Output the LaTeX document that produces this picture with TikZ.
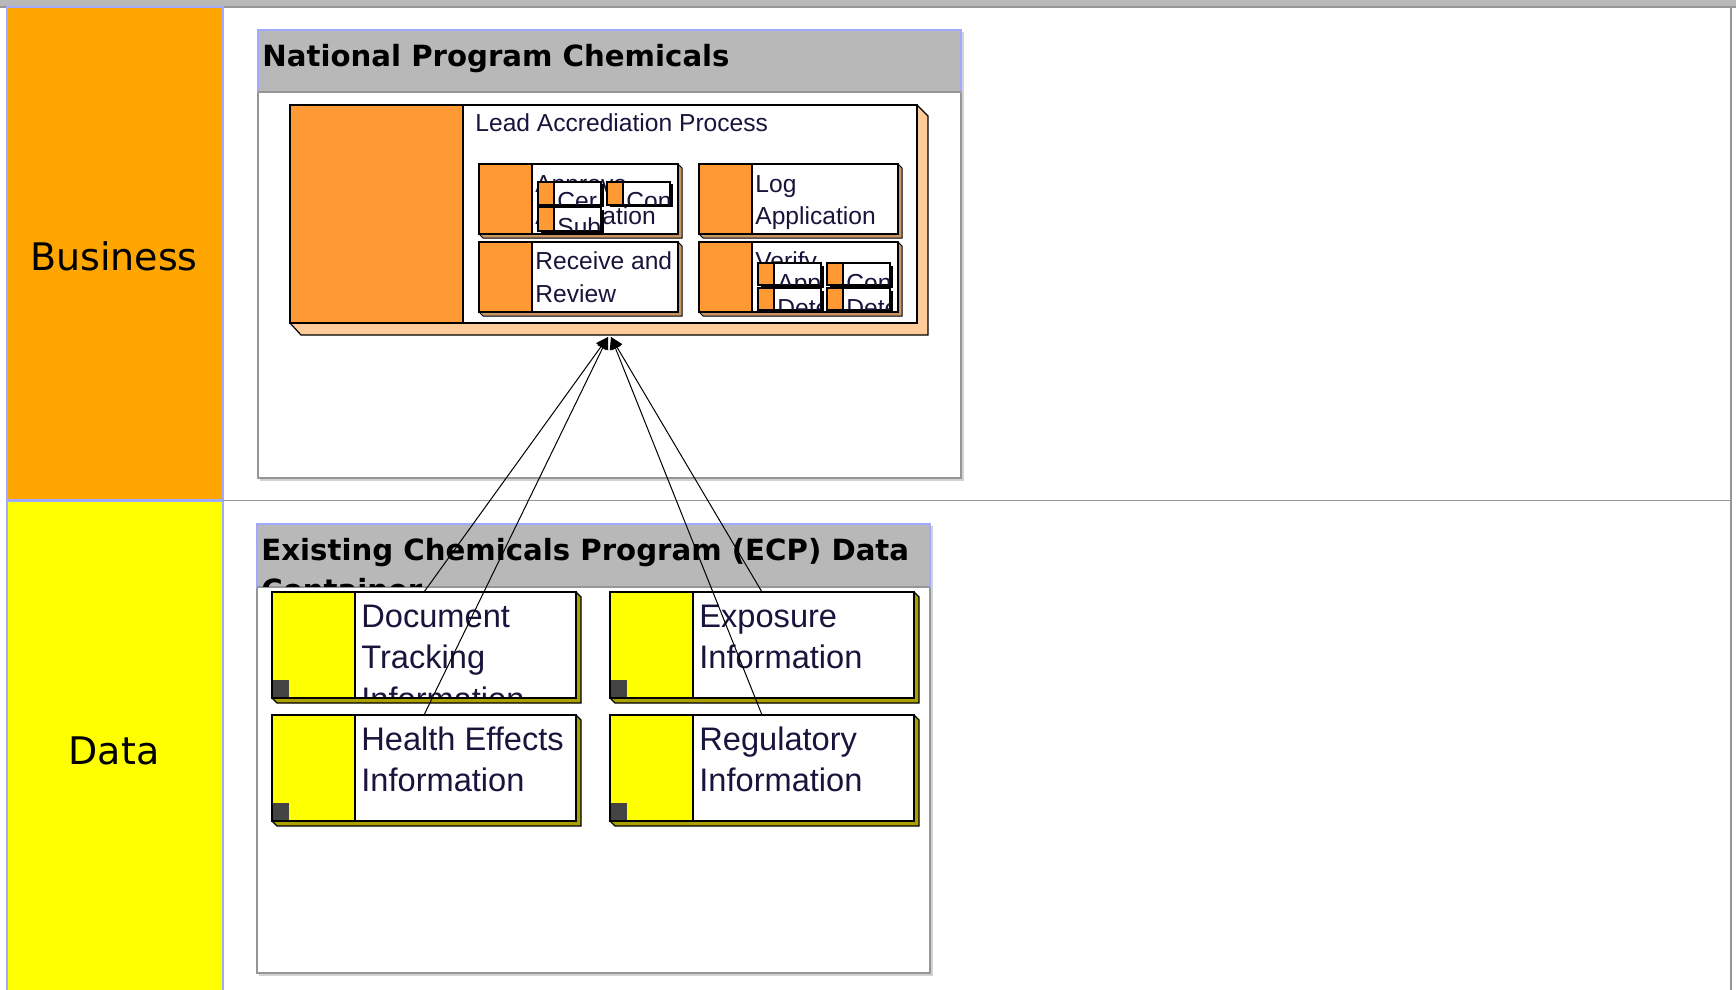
\documentclass[tikz,border=0pt]{standalone}
\usepackage{fontspec}
\setmainfont{Liberation Sans}
\newfontfamily\dejavu{DejaVu Sans}
\usetikzlibrary{arrows.meta}
\definecolor{topgray}{RGB}{184,184,184}
\definecolor{bizorange}{RGB}{255,165,0}
\definecolor{datayellow}{RGB}{255,255,0}
\definecolor{cellblue}{RGB}{160,170,255}
\definecolor{procorange}{RGB}{255,153,51}
\definecolor{peach}{RGB}{255,204,153}
\definecolor{tanshadow}{RGB}{200,150,100}
\definecolor{dataolive}{RGB}{170,160,0}
\definecolor{darksq}{RGB}{68,68,68}
\definecolor{framegray}{RGB}{150,150,150}
\definecolor{lightframe}{RGB}{210,210,210}
\definecolor{inktext}{RGB}{25,20,60}
\tikzset{
  boxnode/.style={draw=black, fill=white, line width=0.8pt, anchor=north west, inner sep=0pt, outer sep=0pt},
  contnode/.style={draw=framegray, fill=white, line width=0.6pt, anchor=north west, inner sep=0pt, outer sep=0pt},
  proctext/.style={font=\fontsize{12.3pt}{14pt}\selectfont, text=inktext, inner sep=0pt},
  datatext/.style={font=\fontsize{16.3pt}{18pt}\selectfont, text=inktext, inner sep=0pt},
  titletext/.style={font=\dejavu\bfseries\fontsize{14.6pt}{17pt}\selectfont, text=black, inner sep=0pt},
  lanetext/.style={font=\dejavu\fontsize{19pt}{21pt}\selectfont, text=black, inner sep=0pt},
  conn/.style={draw=black, line width=0.5pt, -{Triangle[length=6pt,width=6pt]}}
}
% inner process box: name, (x,y), line1, line2
\newcommand\mkproc[4]{%
\begin{scope}[shift={#2}]
 \filldraw[fill=tanshadow, draw=black, line width=0.5pt] (0,70) -- (4,74) -- (203,74) -- (203,4) -- (199,0) -- cycle;
 \node[boxnode, minimum width=99.5pt, minimum height=35pt] (#1) at (0,0) {};
 \filldraw[fill=procorange, draw=black, line width=0.8pt] (0,0) rectangle (53,70);
 \begin{scope}
  \clip (54,1) rectangle (198,69);
  \node[proctext, anchor=base west] (#1-a) at (56,28) {#3};
  \node[proctext, anchor=base west] (#1-b) at (56,60) {#4};
 \end{scope}
 \draw[line width=0.8pt] (0,0) rectangle (199,70);
\end{scope}}
% mini box: name, (x,y), height, text
\newcommand\mkmini[4]{%
\begin{scope}[shift={#2}]
 \fill[black] (2.5,2.5) rectangle (65.5,#3+2.5);
 \node[boxnode, line width=0.6pt, minimum width=31.5pt, minimum height=#3*0.5pt] (#1) at (0,0) {};
 \filldraw[fill=procorange, draw=black, line width=0.6pt] (0,0) rectangle (16,#3);
 \begin{scope}
  \clip (17,0.5) rectangle (62.5,#3-0.5);
  \node[proctext, anchor=base west] (#1-t) at (19,28) {#4};
 \end{scope}
\end{scope}}
% data box: name, (x,y), lines
\newcommand\mkdata[3]{%
\begin{scope}[shift={#2}]
 \filldraw[fill=dataolive, draw=black, line width=0.6pt] (0,106) -- (5,111) -- (309,111) -- (309,5) -- (304,0) -- cycle;
 \node[boxnode, minimum width=152pt, minimum height=53pt] (#1) at (0,0) {};
 \filldraw[fill=datayellow, draw=black, line width=0.8pt] (0,0) rectangle (83,106);
 \fill[darksq] (0,88) rectangle (17,106);
 \begin{scope}
  \clip (84,1) rectangle (303,105);
  \foreach \t [count=\i] in {#3} \node[datatext, anchor=base west] (#1-\i) at (89,{35+41.5*(\i-1)}) {\t};
 \end{scope}
 \draw[line width=0.8pt] (0,0) rectangle (304,106);
\end{scope}}
\begin{document}
\begin{tikzpicture}[x=0.5pt, y=-0.5pt, line join=miter]
\useasboundingbox (0,0) rectangle (1736,990);
\fill[white] (0,0) rectangle (1736,990);
% top bar
\fill[topgray] (0,0) rectangle (1736,7);
\draw[framegray, line width=0.6pt] (0,7) -- (1736,7);
% lanes
\node[draw=cellblue, fill=bizorange, line width=0.8pt, anchor=north west, inner sep=0pt, outer sep=0pt, minimum width=108pt, minimum height=246.5pt] (bizcell) at (7,7) {};
\node[draw=cellblue, fill=datayellow, line width=0.8pt, anchor=north west, inner sep=0pt, outer sep=0pt, minimum width=108pt, minimum height=245pt] (datacell) at (7,501) {};
\node[lanetext] (bizlabel) at (114,256) {Business};
\node[lanetext] (datalabel) at (114,751) {Data};
\draw[framegray, line width=0.6pt] (223,500.5) -- (1731,500.5);
\draw[framegray, line width=0.8pt] (1731,7) -- (1731,990);
% National Program Chemicals container
\draw[lightframe, line width=0.8pt] (260,480) -- (963,480) -- (963,32);
\node[contnode, minimum width=351.5pt, minimum height=224pt] (npc) at (258,30) {};
\filldraw[fill=topgray, draw=cellblue, line width=0.8pt] (258,30) rectangle (961,92);
\draw[framegray, line width=0.6pt] (258,92) -- (961,92);
\node[titletext, anchor=base west] (npctitle) at (262,67) {National Program Chemicals};
% Lead Accrediation Process
\begin{scope}[shift={(290,105)}]
 \filldraw[fill=peach, draw=black, line width=0.6pt] (0,218) -- (11,230) -- (638,230) -- (638,11) -- (627,0) -- cycle;
 \node[boxnode, minimum width=313.5pt, minimum height=109pt] (lap) at (0,0) {};
 \filldraw[fill=procorange, draw=black, line width=0.8pt] (0,0) rectangle (173,218);
 \node[proctext, anchor=base west] (laptitle) at (185,27) {Lead Accrediation Process};
\end{scope}
\mkproc{approve}{(479,164)}{Approve}{Application}
\mkproc{logapp}{(699,164)}{Log}{Application}
\mkproc{receive}{(479,242)}{Receive and}{Review}
\mkproc{verify}{(699,242)}{Verify}{}
\mkmini{apcer}{(538,182)}{23}{Cer}
\mkmini{apcon}{(607,182)}{23}{Con}
\mkmini{apsub}{(538,207)}{24}{Sub}
\mkmini{veapp}{(758,263)}{22}{App}
\mkmini{vecon}{(827,263)}{22}{Con}
\mkmini{vedet}{(758,288)}{22}{Dete}
\mkmini{vedetb}{(827,288)}{22}{Dete}
% ECP container
\draw[lightframe, line width=0.8pt] (259,975) -- (932,975) -- (932,526);
\node[contnode, minimum width=336.5pt, minimum height=224.5pt] (ecp) at (257,524) {};
\filldraw[fill=topgray, draw=cellblue, line width=0.8pt] (257,524) rectangle (930,587);
\draw[framegray, line width=0.6pt] (257,587) -- (930,587);
\begin{scope}
 \clip (258,525) rectangle (929,586.5);
 \node[titletext, anchor=base west] (ecptitle) at (261,560) {Existing Chemicals Program (ECP) Data};
 \node[titletext, anchor=base west] (ecptitleb) at (261,600) {Container};
\end{scope}
\mkdata{doc}{(272,592)}{Document,Tracking,Information}
\mkdata{expo}{(610,592)}{Exposure,Information}
\mkdata{health}{(272,715)}{Health Effects,Information}
\mkdata{regu}{(610,715)}{Regulatory,Information}
% connectors
\coordinate (tgtL) at (608,337);
\coordinate (tgtR) at (611,337);
\draw[conn] (doc.north) -- (tgtL);
\draw[conn] (health.north) -- (tgtL);
\draw[conn] (expo.north) -- (tgtR);
\draw[conn] (regu.north) -- (tgtR);
\end{tikzpicture}
\end{document}
